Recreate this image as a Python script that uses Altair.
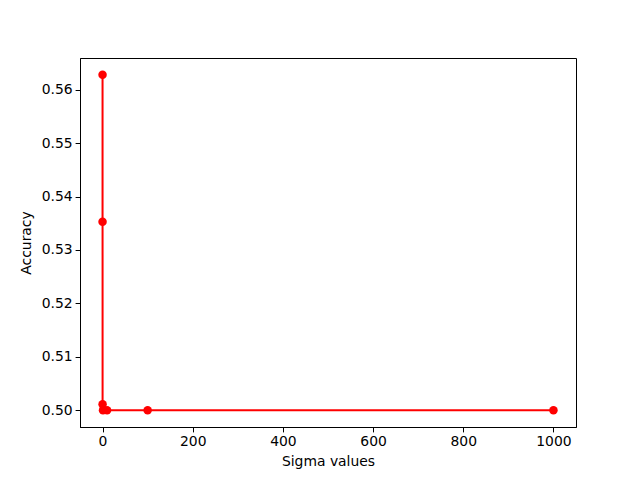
import altair as alt
import pandas as pd

sigma = [0.001, 0.01, 0.1, 1, 10, 100, 1000]
accuracy = [0.5353, 0.5628, 0.5011, 0.5, 0.5, 0.5, 0.5]
x_ticks = [0, 200, 400, 600, 800, 1000]
y_ticks = [0.50, 0.51, 0.52, 0.53, 0.54, 0.55, 0.56]

df = pd.DataFrame({"sigma": sigma, "acc": accuracy, "idx": list(range(len(sigma)))})

font = "DejaVu Sans"
xs = alt.Scale(domain=[-50, 1050], nice=False, zero=False)
ys = alt.Scale(domain=[0.49686, 0.56594], nice=False, zero=False)

xaxis = alt.Axis(values=x_ticks, title="Sigma values", grid=False, format="d",
                 labelFont=font, labelFontSize=13.9, labelColor="black",
                 titleFont=font, titleFontSize=13.9, titleFontWeight="normal", titleColor="black",
                 tickColor="black", tickSize=4.9, domainColor="black", titlePadding=6, labelPadding=3)
yaxis = alt.Axis(values=y_ticks, title="Accuracy", grid=False, format=".2f",
                 labelFont=font, labelFontSize=13.9, labelColor="black",
                 titleFont=font, titleFontSize=13.9, titleFontWeight="normal", titleColor="black",
                 tickColor="black", tickSize=4.9, domainColor="black", titlePadding=8, labelPadding=3)

base = alt.Chart(df).encode(
    x=alt.X("sigma:Q", scale=xs, axis=xaxis),
    y=alt.Y("acc:Q", scale=ys, axis=yaxis),
    order=alt.Order("idx:Q"),
)
line = base.mark_line(color="red", strokeWidth=2, clip=True)
pts = base.mark_point(color="red", filled=True, opacity=1, size=72, shape="circle", clip=True)

chart = (line + pts).properties(
    width=496, height=369,
    background="white",
    padding={"left": 72, "top": 50, "right": 56, "bottom": 45},
    autosize=alt.AutoSizeParams(type="none"),
).configure_view(stroke="black", strokeWidth=1)

chart.save("out.html", embed_options={"renderer": "svg", "actions": False})
